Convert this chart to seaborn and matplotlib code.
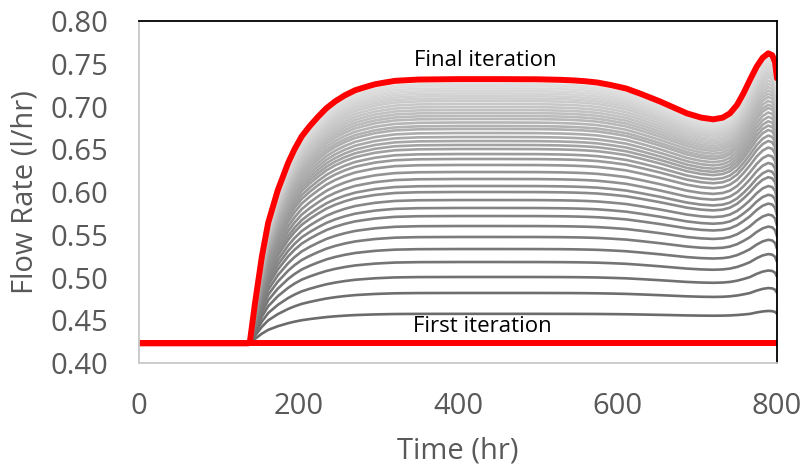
import numpy as np
import pandas as pd
import matplotlib
matplotlib.use("Agg")
import matplotlib.pyplot as plt
import seaborn as sns

# Final iteration flow-rate profile (hr, l/hr)
final_time = [0, 137, 139, 145.5, 154, 162, 174, 187, 195, 204, 214, 224.5, 235,
              246, 258, 271, 283, 296, 308, 321, 350, 400, 450, 500, 528, 545,
              560, 575, 592, 611, 630, 653, 670, 687, 705, 720, 732, 741, 750,
              758, 766, 774.5, 782, 789, 794, 797.5, 800]
final_flow = [0.423, 0.423, 0.4245, 0.470, 0.524, 0.564, 0.602, 0.634, 0.650, 0.665,
              0.677, 0.688, 0.698, 0.706, 0.713, 0.719, 0.7225, 0.726, 0.728, 0.730,
              0.7315, 0.732, 0.732, 0.7318, 0.7312, 0.7305, 0.7295, 0.728, 0.725,
              0.721, 0.7145, 0.706, 0.699, 0.692, 0.687, 0.685, 0.687, 0.692, 0.702,
              0.7155, 0.731, 0.7466, 0.757, 0.7622, 0.760, 0.752, 0.733]

# First iteration: constant flow rate
first_flow = 0.423
first_time = [0, 800]

# Plateau flow rate of each intermediate iteration (read at ~415 hr)
iter_plateau = [0.4575, 0.4819, 0.5006, 0.5181, 0.5333, 0.5474, 0.5602, 0.5719,
                0.5813, 0.5906, 0.6000, 0.6070, 0.6152, 0.6234, 0.6316, 0.6386,
                0.6444, 0.6503, 0.6550, 0.6596, 0.6643, 0.6690, 0.6737, 0.6772,
                0.6813, 0.6854, 0.6889, 0.6924, 0.6959, 0.6994, 0.7029, 0.7064,
                0.7094, 0.7123, 0.7152, 0.7181, 0.7211, 0.7240, 0.7263]
final_plateau = 0.732
plateau_end = 450  # hr, after which the late-time dip and peak start

x_ticks = [0, 200, 400, 600, 800]
y_ticks = [0.40, 0.45, 0.50, 0.55, 0.60, 0.65, 0.70, 0.75, 0.80]

sns.set_theme(style="white")
plt.rcParams["font.family"] = ["Open Sans", "DejaVu Sans"]

t = np.array(final_time)
q = np.array(final_flow)

# Split the final response into the start-up rise and the late-time wave
rise = np.where(t >= plateau_end, final_plateau, q)
wave = q - rise
dip = np.minimum(wave, 0)
peak = np.maximum(wave, 0)

# Intermediate iterations: rise scaled to each plateau, dip deepens as they converge
rows = []
for k, p in enumerate(iter_plateau):
    frac = (p - first_flow) / (final_plateau - first_flow)
    flow = first_flow + frac * (rise - first_flow) + frac ** 1.4 * dip + frac * peak
    for ti, qi in zip(t, flow):
        rows.append({"time": ti, "flow": qi, "iteration": k})
iters = pd.DataFrame(rows)

n = len(iter_plateau)
grays = [str(v) for v in np.linspace(0.42, 0.88, n)]

fig = plt.figure(figsize=(8.04, 4.73), dpi=100)
ax = fig.add_axes([139 / 804, 1 - 363 / 473, (777 - 139) / 804, (363 - 21) / 473])

sns.lineplot(data=iters, x="time", y="flow", hue="iteration", palette=grays,
             estimator=None, sort=False, linewidth=1.9, legend=False, ax=ax)
sns.lineplot(x=first_time, y=[first_flow, first_flow], color="#ff0000",
             linewidth=4.3, estimator=None, sort=False, ax=ax)
sns.lineplot(x=final_time, y=final_flow, color="#ff0000", linewidth=4.3,
             estimator=None, sort=False, ax=ax)

ax.text(434, 0.754, "Final iteration", ha="center", va="center",
        fontsize=16, color="black")
ax.text(430, 0.4425, "First iteration", ha="center", va="center",
        fontsize=16, color="black")

ax.set_xlim(0, 800)
ax.set_ylim(0.40, 0.80)
ax.set_xticks(x_ticks)
ax.set_yticks(y_ticks)
ax.set_yticklabels([f"{v:.2f}" for v in y_ticks])
ax.tick_params(axis="both", length=0, labelsize=21, labelcolor="#595959")
ax.tick_params(axis="y", pad=22)
ax.tick_params(axis="x", pad=21)
ax.set_xlabel("Time (hr)", fontsize=21, color="#595959", labelpad=11)
ax.set_ylabel("Flow Rate (l/hr)", fontsize=21, color="#595959", labelpad=8)

for side in ("top", "right"):
    ax.spines[side].set_color("black")
    ax.spines[side].set_linewidth(1.3)
for side in ("left", "bottom"):
    ax.spines[side].set_color("#c8c8c8")
    ax.spines[side].set_linewidth(1.3)

fig.savefig("out.png", dpi=100)
